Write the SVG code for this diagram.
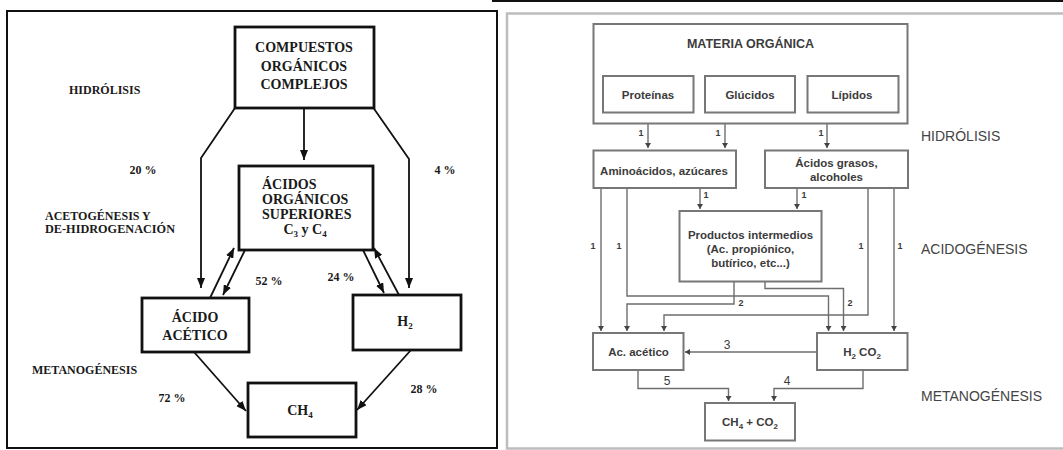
<svg xmlns="http://www.w3.org/2000/svg" width="1063" height="450" viewBox="0 0 1063 450">
<style>
.frameL{fill:#fff;stroke:#111;stroke-width:2}
.frameR{fill:#fff;stroke:#bdbdbd;stroke-width:2.5}
.bx{fill:#fff;stroke:#111;stroke-width:2.8}
.ln{fill:none;stroke:#111;stroke-width:1.8}
.st{font-family:"Liberation Serif","Times New Roman",serif;font-weight:bold;fill:#1a1a1a}
.s14{font-size:14px}
.s12{font-size:12px}
.bx2{fill:#fff;stroke:#777;stroke-width:2}
.ln2{fill:none;stroke:#6e6e6e;stroke-width:1.4}
.ss{font-family:"Liberation Sans",Arial,sans-serif;fill:#3c3c3c}
.tb{font-size:11.5px;font-weight:bold}
.stage{font-size:14px;fill:#444}
.n1{font-size:9px;font-weight:bold}
.n2{font-size:12px}
</style>
<defs>
<marker id="ah" markerUnits="userSpaceOnUse" markerWidth="10" markerHeight="8" refX="10" refY="4" orient="auto">
<path d="M0,0 L10,4 L0,8 z" fill="#111"/>
</marker>
<marker id="ah2" markerUnits="userSpaceOnUse" markerWidth="6" markerHeight="6" refX="5" refY="3" orient="auto">
<path d="M0,0 L5,3 L0,6 z" fill="#444"/>
</marker>
</defs>
<rect width="1063" height="450" fill="#fff"/>

<!-- LEFT PANEL -->
<rect class="frameL" x="7" y="11" width="490" height="437"/>
<g id="left-labels" class="st">
<text class="s12" x="69" y="94">HIDRÓLISIS</text>
<text class="s12" x="143" y="174" text-anchor="middle">20 %</text>
<text class="s12" x="445" y="174" text-anchor="middle">4 %</text>
<text class="s12" x="45" y="220">ACETOGÉNESIS Y</text>
<text class="s12" x="45" y="233" textLength="130" lengthAdjust="spacingAndGlyphs">DE-HIDROGENACIÓN</text>
<text class="s12" x="269" y="285" text-anchor="middle">52 %</text>
<text class="s12" x="341" y="281" text-anchor="middle">24 %</text>
<text class="s12" x="32" y="374">METANOGÉNESIS</text>
<text class="s12" x="172" y="402" text-anchor="middle">72 %</text>
<text class="s12" x="424" y="393" text-anchor="middle">28 %</text>
</g>
<g id="left-connectors" class="ln">
<line x1="304" y1="108" x2="304" y2="160" marker-end="url(#ah)"/>
<polyline points="235,108 201,158 201,288" marker-end="url(#ah)"/>
<polyline points="373.5,108 409,159 409,288" marker-end="url(#ah)"/>
<line x1="210" y1="298" x2="234" y2="248" marker-end="url(#ah)"/>
<line x1="245" y1="250" x2="223" y2="295" marker-end="url(#ah)"/>
<line x1="363" y1="250" x2="384" y2="293" marker-end="url(#ah)"/>
<line x1="399" y1="295" x2="374" y2="248" marker-end="url(#ah)"/>
<line x1="194" y1="352" x2="246" y2="411" marker-end="url(#ah)"/>
<line x1="411" y1="350" x2="357" y2="410" marker-end="url(#ah)"/>
</g>
<g id="compuestos">
<rect class="bx" x="235" y="27" width="139" height="81"/>
<text class="st s14" x="304" y="52" text-anchor="middle">COMPUESTOS</text>
<text class="st s14" x="304" y="71" text-anchor="middle">ORGÁNICOS</text>
<text class="st s14" x="304" y="89" text-anchor="middle">COMPLEJOS</text>
</g>
<g id="acidos-organicos">
<rect class="bx" x="239" y="166" width="134" height="84"/>
<text class="st s14" x="262" y="189">ÁCIDOS</text>
<text class="st s14" x="262" y="204">ORGÁNICOS</text>
<text class="st s14" x="262" y="219">SUPERIORES</text>
<text class="st s14" x="305" y="234" text-anchor="middle">C<tspan font-size="9" dy="3">3</tspan><tspan dy="-3"> y C</tspan><tspan font-size="9" dy="3">4</tspan></text>
</g>
<g id="acido-acetico">
<rect class="bx" x="142" y="298" width="107" height="54"/>
<text class="st s14" x="195" y="322" text-anchor="middle">ÁCIDO</text>
<text class="st s14" x="195" y="340" text-anchor="middle">ACÉTICO</text>
</g>
<g id="h2">
<rect class="bx" x="353" y="295" width="108" height="55"/>
<text class="st s14" x="405" y="326" text-anchor="middle">H<tspan font-size="9" dy="3">2</tspan></text>
</g>
<g id="ch4">
<rect class="bx" x="248" y="383" width="108" height="54"/>
<text class="st s14" x="300" y="415" text-anchor="middle">CH<tspan font-size="9" dy="3">4</tspan></text>
</g>

<!-- RIGHT PANEL -->
<line x1="492" y1="1" x2="1063" y2="1" stroke="#111" stroke-width="2"/>
<rect class="frameR" x="507" y="13.5" width="560" height="435"/>
<g id="right-stages" class="ss stage">
<text x="921" y="141">HIDRÓLISIS</text>
<text x="921" y="254">ACIDOGÉNESIS</text>
<text x="921" y="401">METANOGÉNESIS</text>
</g>
<g id="right-connectors" class="ln2">
<line x1="648" y1="112" x2="648" y2="148" marker-end="url(#ah2)"/>
<line x1="725" y1="112" x2="725" y2="148" marker-end="url(#ah2)"/>
<line x1="827" y1="112" x2="827" y2="148" marker-end="url(#ah2)"/>
<line x1="700" y1="188" x2="700" y2="209" marker-end="url(#ah2)"/>
<line x1="797" y1="188" x2="797" y2="209" marker-end="url(#ah2)"/>
<line x1="601" y1="188" x2="601" y2="331" marker-end="url(#ah2)"/>
<polyline points="627,188 627,296 828.5,296 828.5,331" marker-end="url(#ah2)"/>
<polyline points="734,282 734,304 627,304 627,331" marker-end="url(#ah2)"/>
<polyline points="765,282 765,288.5 843.5,288.5 843.5,331" marker-end="url(#ah2)"/>
<polyline points="868,188 868,315 664,315 664,331" marker-end="url(#ah2)"/>
<line x1="894" y1="188" x2="894" y2="331" marker-end="url(#ah2)"/>
<line x1="816.5" y1="352" x2="685" y2="352" marker-end="url(#ah2)"/>
<polyline points="638,370 638,388.5 728.5,388.5 728.5,401" marker-end="url(#ah2)"/>
<polyline points="863,370 863,388.5 774,388.5 774,401" marker-end="url(#ah2)"/>
</g>
<g id="right-edge-labels" class="ss">
<text class="n1" x="641" y="136" text-anchor="middle">1</text>
<text class="n1" x="718" y="136" text-anchor="middle">1</text>
<text class="n1" x="821" y="136" text-anchor="middle">1</text>
<text class="n1" x="706" y="198" text-anchor="middle">1</text>
<text class="n1" x="804" y="198" text-anchor="middle">1</text>
<text class="n1" x="593" y="249" text-anchor="middle">1</text>
<text class="n1" x="619" y="249" text-anchor="middle">1</text>
<text class="n1" x="861" y="249" text-anchor="middle">1</text>
<text class="n1" x="900" y="249" text-anchor="middle">1</text>
<text class="n1" x="741" y="306" text-anchor="middle">2</text>
<text class="n1" x="850" y="306" text-anchor="middle">2</text>
<text class="n2" x="727" y="349" text-anchor="middle">3</text>
<text class="n2" x="667" y="385" text-anchor="middle">5</text>
<text class="n2" x="787" y="385" text-anchor="middle">4</text>
</g>
<g id="materia-organica">
<rect class="bx2" x="593.5" y="24" width="314" height="99.5"/>
<text class="ss" x="750.5" y="48" text-anchor="middle" font-size="12.5" font-weight="bold">MATERIA ORGÁNICA</text>
</g>
<g id="proteinas">
<rect class="bx2" x="603" y="76" width="90.5" height="36.5"/>
<text class="ss tb" x="648" y="99" text-anchor="middle">Proteínas</text>
</g>
<g id="glucidos">
<rect class="bx2" x="705" y="76" width="90" height="36.5"/>
<text class="ss tb" x="750" y="99" text-anchor="middle">Glúcidos</text>
</g>
<g id="lipidos">
<rect class="bx2" x="807.5" y="76" width="91" height="36.5"/>
<text class="ss tb" x="852" y="99" text-anchor="middle">Lípidos</text>
</g>
<g id="aminoacidos">
<rect class="bx2" x="593.5" y="150.5" width="142.5" height="37.5"/>
<text class="ss tb" x="664" y="174.5" text-anchor="middle">Aminoácidos, azúcares</text>
</g>
<g id="acidos-grasos">
<rect class="bx2" x="765" y="150.5" width="143" height="37.5"/>
<text class="ss tb" x="836.5" y="167" text-anchor="middle">Ácidos grasos,</text>
<text class="ss tb" x="836.5" y="181" text-anchor="middle">alcoholes</text>
</g>
<g id="productos-intermedios">
<rect class="bx2" x="679.5" y="211" width="142" height="70.5"/>
<text class="ss tb" x="750.5" y="239" text-anchor="middle">Productos intermedios</text>
<text class="ss tb" x="750.5" y="253" text-anchor="middle">(Ac. propiónico,</text>
<text class="ss tb" x="750.5" y="267" text-anchor="middle">butírico, etc...)</text>
</g>
<g id="ac-acetico">
<rect class="bx2" x="593" y="333" width="90.5" height="37"/>
<text class="ss tb" x="638.5" y="356" text-anchor="middle">Ac. acético</text>
</g>
<g id="h2-co2">
<rect class="bx2" x="817" y="333" width="90.5" height="37"/>
<text class="ss tb" x="862" y="356" text-anchor="middle">H<tspan font-size="8" dy="3">2</tspan><tspan dy="-3"> CO</tspan><tspan font-size="8" dy="3">2</tspan></text>
</g>
<g id="ch4-co2">
<rect class="bx2" x="705" y="403" width="90" height="37.5"/>
<text class="ss tb" x="750" y="425.5" text-anchor="middle">CH<tspan font-size="8" dy="3">4</tspan><tspan dy="-3"> + CO</tspan><tspan font-size="8" dy="3">2</tspan></text>
</g>
</svg>
